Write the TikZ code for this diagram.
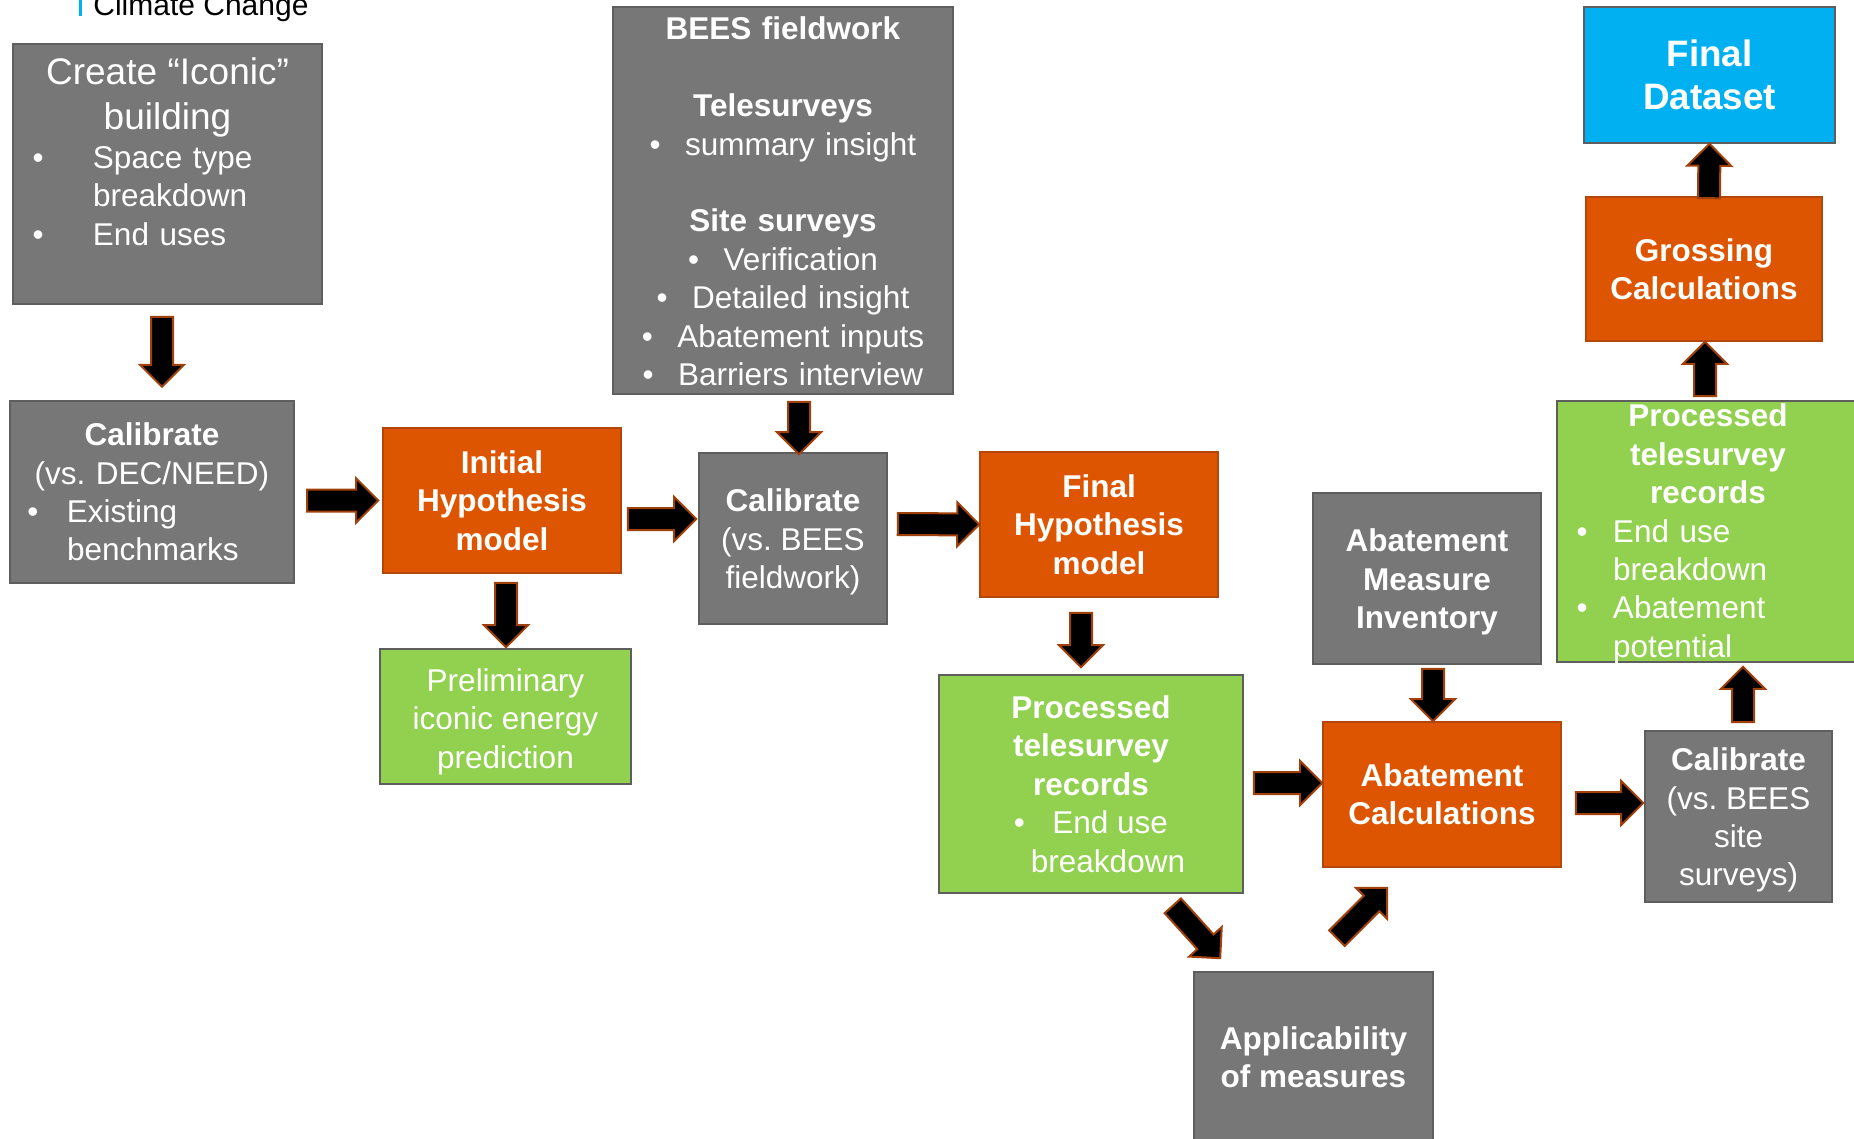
\documentclass[tikz,border=0pt]{standalone}
\usepackage{fontspec}
\setmainfont{Liberation Sans}
\usepackage{tikz}
\usetikzlibrary{calc}
\definecolor{box-gray}{HTML}{777777}
\definecolor{box-grayline}{HTML}{5E5E5E}
\definecolor{box-orange}{HTML}{DD5500}
\definecolor{box-orangeline}{HTML}{B4460A}
\definecolor{box-green}{HTML}{92D050}
\definecolor{box-blue}{HTML}{00B0F0}
\definecolor{arrow-edge}{HTML}{A0400A}
\newcommand{\bodyfont}{\fontsize{15.75}{19.2}\selectfont}
% bullet at offset #1, text starts #2 after it
\newcommand{\bulgap}[2]{\hspace*{#1}\makebox[#2][l]{•}}
\newcommand{\cbul}[1]{\makebox[#1][l]{•}}
% taller first line, pushes the text down a little
\newcommand{\lift}[1]{\rule{0pt}{#1}}
% block arrow from #1 to #2 (tip at #2)
\newcommand{\blockarrow}[2]{%
\draw[blockarrow] let \p1=(#1), \p2=(#2),
  \n1={atan2(\y2-\y1,\x2-\x1)}, \n2={veclen(\x2-\x1,\y2-\y1)} in
  ($(\p1)+(\n1+90:5.5pt)$) -- ($(\p1)+(\n1:{\n2-11pt})+(\n1+90:5.5pt)$)
  -- ($(\p1)+(\n1:{\n2-11pt})+(\n1+90:11pt)$) -- (\p2)
  -- ($(\p1)+(\n1:{\n2-11pt})+(\n1-90:11pt)$) -- ($(\p1)+(\n1:{\n2-11pt})+(\n1-90:5.5pt)$)
  -- ($(\p1)+(\n1-90:5.5pt)$) -- cycle;
}
\frenchspacing
\begin{document}
\begin{tikzpicture}[x=0.5pt, y=-0.5pt,
  flowbox/.style={draw, line width=0.8pt, inner sep=0pt, text=white, font=\bodyfont, align=center},
  graybox/.style={flowbox, fill=box-gray, draw=box-grayline},
  orangebox/.style={flowbox, fill=box-orange, draw=box-orangeline, font=\bodyfont\bfseries},
  greenbox/.style={flowbox, fill=box-green, draw=box-grayline},
  bluebox/.style={flowbox, fill=box-blue, draw=box-grayline, font=\fontsize{18.4}{21.5}\selectfont\bfseries},
  boldtext/.style={font=\bodyfont\bfseries},
  boxsize/.style 2 args={minimum width=#1*0.5pt, minimum height=#2*0.5pt},
  blockarrow/.style={draw=arrow-edge, fill=black, line width=1pt, line join=miter}]
\useasboundingbox (0,0) rectangle (1854,1139);
% header
\fill[box-blue] (79,-4) rectangle (82,16);
\node[anchor=base west, inner sep=0pt, font=\fontsize{15}{18}\selectfont] (header) at (93,15.5) {Climate Change};
% left column
\node[graybox, boxsize={309}{260}, text width=154.5pt, align=left, text height=20.5pt, text depth=109.5pt] (create) at (167.5,174)
  {{\centering\fontsize{18.5}{22.5}\selectfont Create “Iconic”\\ building\par}\bulgap{9.75pt}{30.25pt}Space type\\ \hspace*{40pt}breakdown\\ \bulgap{9.75pt}{30.25pt}End uses};
\node[graybox, boxsize={284}{182}, text width=142pt, align=left] (calib1) at (152,492)
  {{\centering\textbf{Calibrate}\\ (vs. DEC/NEED)\par}\bulgap{8.75pt}{19.75pt}Existing\\ \hspace*{28.5pt}benchmarks};
\node[orangebox, boxsize={238}{145}] (init) at (502,500.5) {Initial\\ Hypothesis\\ model};
\node[greenbox, boxsize={251}{135}] (prelim) at (505.5,716.5) {\lift{16.5pt}Preliminary\\ iconic energy\\ prediction};
% fieldwork
\node[graybox, boxsize={340}{387}, text width=170pt, text height=16.5pt, text depth=177pt] (bees) at (783,200.5)
  {\textbf{BEES fieldwork}\\[19.2pt] \textbf{Telesurveys}\\ \cbul{17.75pt}summary insight\\[19.2pt] \textbf{Site surveys}\\
   \cbul{17.75pt}Verification\\ \cbul{17.75pt}Detailed insight\\ \cbul{17.75pt}Abatement inputs\\ \cbul{17.75pt}Barriers interview};
\node[graybox, boxsize={188}{171}] (calib2) at (793,538.5) {\lift{15pt}\textbf{Calibrate}\\ (vs. BEES\\ fieldwork)};
\node[orangebox, boxsize={238}{145}] (finhyp) at (1099,524.5) {Final\\ Hypothesis\\ model};
\node[greenbox, boxsize={304}{218}] (ptr1) at (1091,784)
  {\textbf{Processed}\\ \textbf{telesurvey}\\ \textbf{records}\\ \cbul{19.25pt}End use\\ \hspace*{17pt}breakdown};
% abatement
\node[graybox, boldtext, boxsize={228}{171}] (ami) at (1427,578.5) {\lift{15pt}Abatement\\ Measure\\ Inventory};
\node[orangebox, boxsize={238}{145}] (abcalc) at (1442,794.5) {Abatement\\ Calculations};
\node[graybox, boldtext, boxsize={239}{170}] (appl) at (1313.5,1057) {Applicability\\ of measures};
\node[graybox, boxsize={187}{171}] (calib3) at (1738.5,816.5) {\lift{15pt}\textbf{Calibrate}\\ (vs. BEES\\ site\\ surveys)};
% right column
\node[greenbox, boxsize={302}{261}, text width=151pt, align=left, text height=13pt, text depth=117.5pt] (ptr2) at (1708,531.5)
  {{\centering\bfseries Processed\\ telesurvey\\ records\par}\bulgap{9.75pt}{18.25pt}End use\\ \hspace*{28pt}breakdown\\
   \bulgap{9.75pt}{18.25pt}Abatement\\ \hspace*{28pt}potential};
\node[orangebox, boxsize={236}{144}] (gross) at (1704,269) {Grossing\\ Calculations};
\node[bluebox, boxsize={251}{136}] (final) at (1709.5,75) {Final\\ Dataset};
% arrows
\blockarrow{$(create.south)+(-5.5,12)$}{$(create.south)+(-5.5,82)$}
\blockarrow{$(init.west)+(-75,0)$}{$(init.west)+(-4,0)$}
\blockarrow{$(init.south)+(4,9)$}{$(prelim.north)+(0.5,-1)$}
\blockarrow{$(init.east)+(6,18.5)$}{$(calib2.west)+(-2,-19.5)$}
\blockarrow{$(bees.south)+(16,7)$}{$(calib2.north)+(6,2)$}
\blockarrow{$(calib2.east)+(10,-14.5)$}{finhyp.west}
\blockarrow{$(finhyp.south)+(-18,15)$}{$(ptr1.north)+(-10,-7)$}
\blockarrow{$(ptr1.east)+(10,-1)$}{$(abcalc.west)+(0,-11.5)$}
\blockarrow{$(ami.south)+(6,4)$}{$(abcalc.north)+(-9,0)$}
\blockarrow{$(ptr1.south east)+(-71,12)$}{$(appl.north west)+(27,-13)$}
\blockarrow{$(appl.north)+(23.5,-33)$}{$(abcalc.south west)+(65,20)$}
\blockarrow{$(abcalc.east)+(14,8.5)$}{$(calib3.west)+(-1,-13.5)$}
\blockarrow{$(calib3.north)+(4.5,-8)$}{$(ptr2.south)+(35,4)$}
\blockarrow{$(ptr2.north)+(-3,-4)$}{$(gross.south)+(1,0)$}
\blockarrow{$(gross.north)+(5,2)$}{final.south}
\end{tikzpicture}
\end{document}
